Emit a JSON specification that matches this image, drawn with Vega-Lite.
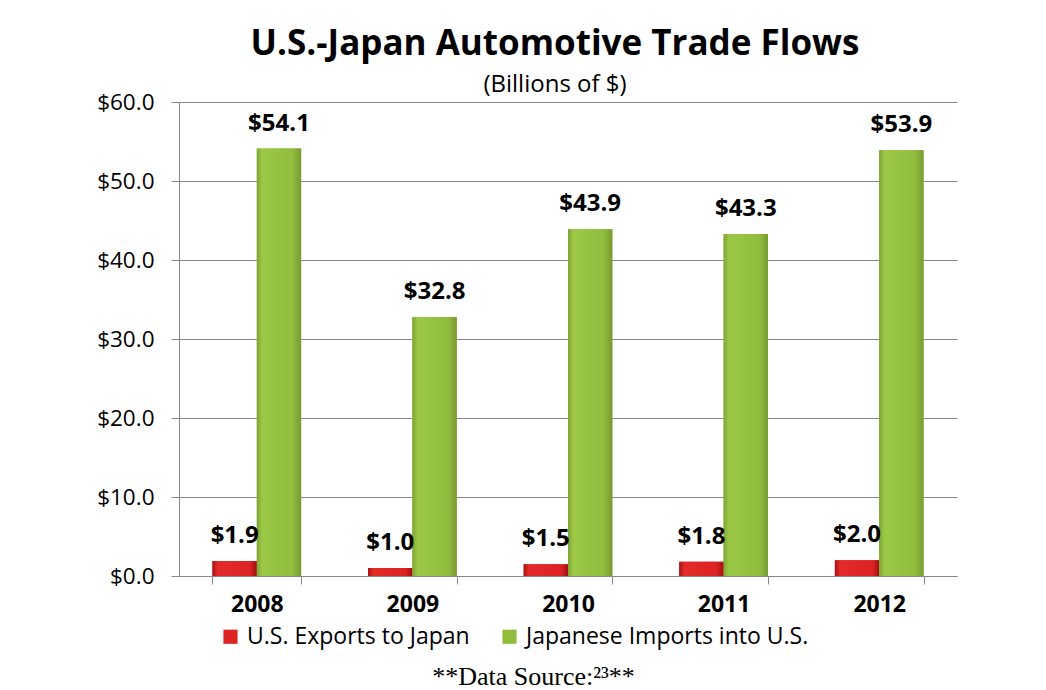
{
  "$schema": "https://vega.github.io/schema/vega-lite/v6.json",
  "width": 778,
  "height": 474,
  "autosize": {"type": "none"},
  "padding": {"left": 179, "top": 102, "right": 89, "bottom": 114},
  "background": "white",
  "title": {
    "text": "U.S.-Japan Automotive Trade Flows",
    "subtitle": "(Billions of $)",
    "anchor": "middle",
    "frame": "group",
    "dx": -13,
    "offset": -6,
    "font": "Open Sans",
    "fontSize": 35,
    "fontWeight": "bold",
    "color": "#000000",
    "subtitleFont": "Open Sans",
    "subtitleFontSize": 24,
    "subtitleColor": "#000000",
    "subtitlePadding": 11
  },
  "data": {
    "values": [
      {"year": "2008", "series": "U.S. Exports to Japan", "value": 1.9},
      {"year": "2008", "series": "Japanese Imports into U.S.", "value": 54.1},
      {"year": "2009", "series": "U.S. Exports to Japan", "value": 1.0},
      {"year": "2009", "series": "Japanese Imports into U.S.", "value": 32.8},
      {"year": "2010", "series": "U.S. Exports to Japan", "value": 1.5},
      {"year": "2010", "series": "Japanese Imports into U.S.", "value": 43.9},
      {"year": "2011", "series": "U.S. Exports to Japan", "value": 1.8},
      {"year": "2011", "series": "Japanese Imports into U.S.", "value": 43.3},
      {"year": "2012", "series": "U.S. Exports to Japan", "value": 2.0},
      {"year": "2012", "series": "Japanese Imports into U.S.", "value": 53.9}
    ]
  },
  "encoding": {
    "x": {
      "field": "year",
      "type": "nominal",
      "scale": {"paddingInner": 0.43, "paddingOuter": 0.215},
      "axis": {
        "title": "**Data Source:²³**",
        "titleFont": "Liberation Serif",
        "titleFontSize": 26,
        "titleFontWeight": "normal",
        "titleColor": "#000000",
        "titlePadding": 47,
        "titleX": 354,
        "titleAlign": "center",
        "labelAngle": 0,
        "labelFont": "Open Sans",
        "labelFontSize": 23,
        "labelFontWeight": "bold",
        "labelColor": "#000000",
        "labelPadding": 9,
        "tickBand": "extent",
        "tickSize": 8,
        "tickColor": "#878787",
        "domainColor": "#878787",
        "grid": false
      }
    },
    "xOffset": {
      "field": "series",
      "type": "nominal",
      "sort": ["U.S. Exports to Japan", "Japanese Imports into U.S."],
      "scale": {"domain": ["U.S. Exports to Japan", "Japanese Imports into U.S."], "paddingInner": 0, "paddingOuter": 0}
    },
    "y": {
      "field": "value",
      "type": "quantitative",
      "scale": {"domain": [0, 60]},
      "axis": {
        "title": null,
        "values": [0, 10, 20, 30, 40, 50, 60],
        "format": "$.1f",
        "labelFont": "Open Sans",
        "labelFontSize": 22.5,
        "labelColor": "#000000",
        "labelPadding": 17,
        "tickSize": 8,
        "tickColor": "#878787",
        "domainColor": "#878787",
        "grid": true,
        "gridColor": "#878787",
        "gridWidth": 1
      }
    }
  },
  "layer": [
    {
      "mark": {"type": "bar", "cornerRadius": 0},
      "encoding": {
        "color": {
          "field": "series",
          "type": "nominal",
          "sort": ["U.S. Exports to Japan", "Japanese Imports into U.S."],
          "scale": {
            "domain": ["U.S. Exports to Japan", "Japanese Imports into U.S."],
            "range": ["#de2323", "#91bc3d"]
          },
          "legend": {
            "title": null,
            "orient": "none",
            "legendX": 40,
            "legendY": 523,
            "direction": "horizontal",
            "columns": 2,
            "columnPadding": 28,
            "symbolType": "square",
            "symbolSize": 200,
            "symbolStrokeWidth": 0,
            "labelFont": "Open Sans",
            "labelFontSize": 23,
            "labelColor": "#000000",
            "labelOffset": 5,
            "labelLimit": 0
          }
        }
      }
    },
    {
      "transform": [{"filter": "datum.series === 'U.S. Exports to Japan'"}],
      "mark": {
        "type": "bar",
        "color": {
          "gradient": "linear",
          "x1": 0, "x2": 1, "y1": 0, "y2": 0,
          "stops": [
            {"offset": 0, "color": "#a81212"},
            {"offset": 0.12, "color": "#e52a2a"},
            {"offset": 0.85, "color": "#dc2222"},
            {"offset": 1, "color": "#9e1010"}
          ]
        }
      },
      "encoding": {}
    },
    {
      "transform": [{"filter": "datum.series === 'Japanese Imports into U.S.'"}],
      "mark": {
        "type": "bar",
        "color": {
          "gradient": "linear",
          "x1": 0, "x2": 1, "y1": 0, "y2": 0,
          "stops": [
            {"offset": 0, "color": "#7ea334"},
            {"offset": 0.12, "color": "#9cc846"},
            {"offset": 0.8, "color": "#91bd3e"},
            {"offset": 1, "color": "#779a2f"}
          ]
        }
      },
      "encoding": {}
    },
    {
      "mark": {
        "type": "text",
        "baseline": "middle",
        "dy": -25,
        "font": "Open Sans",
        "fontSize": 24,
        "fontWeight": "bold",
        "color": "#000000"
      },
      "encoding": {
        "text": {"field": "value", "type": "quantitative", "format": "$.1f"}
      }
    }
  ],
  "config": {
    "view": {"stroke": null}
  }
}
